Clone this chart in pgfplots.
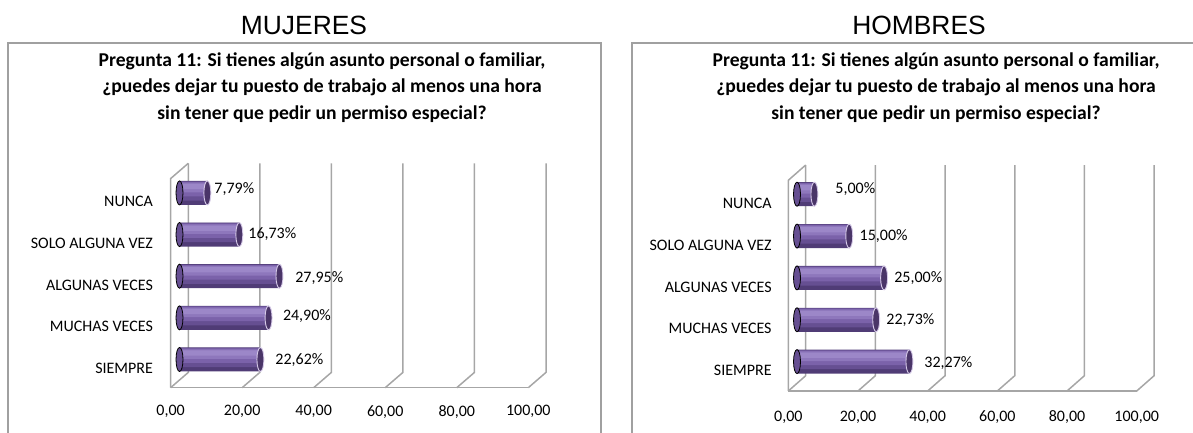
\documentclass[border=0pt]{standalone}
\usepackage{fontspec}
\setmainfont{Carlito}
\newfontfamily\arialfont{Liberation Sans}
\usepackage{pgfplots}
\pgfplotsset{compat=1.18}
\usepackage{pgfplotstable}

\definecolor{cA}{HTML}{503C76}
\definecolor{cB}{HTML}{664F92}
\definecolor{cC}{HTML}{7B62AA}
\definecolor{cD}{HTML}{8E77BC}
\definecolor{cE}{HTML}{9C87C8}
\definecolor{capfill}{HTML}{4A3568}
\definecolor{capline}{HTML}{D6CAE8}
\definecolor{gridc}{HTML}{A6A6A6}
\definecolor{framec}{HTML}{A0A0A0}

% y: category position, x: value, b: bar base, off/up: label offsets (pt)
\pgfplotstableread{
y x b off up
0 22.62 0 7.3 -0.5
1 24.90 0 7.0 1.0
2 27.95 0 7.7 -1.15
3 16.73 0 4.3 0.35
4 7.79 0 3.3 1.75
}\mujeres

\pgfplotstableread{
y x b off up
0 32.27 0 7.3 -0.5
1 22.73 0 4.9 0
2 25.00 0 4.9 0
3 15.00 0 5.0 0
4 5.00 0 10.3 2.5
}\hombres

\newcommand\decor[4]{% ymin ymax dx dy
  \pgfplotsinvokeforeach{0,20,40,60,80,100}{
    \draw[gridc,line width=0.75pt] (axis cs:##1,#1) -- ([xshift=#3,yshift=#4]axis cs:##1,#1) -- ([xshift=#3,yshift=#4]axis cs:##1,#2);
  }
  \draw[gridc,line width=0.75pt] (axis cs:0,#1) -- (axis cs:100,#1);
  \draw[gridc,line width=0.75pt] (axis cs:0,#1) -- (axis cs:0,#2) -- ([xshift=#3,yshift=#4]axis cs:0,#2);
}

\newcommand\bars[3]{% table, xshift, yshift
  \addplot[only marks, mark=*, mark size=6pt, draw=none, fill=cB, mark options={xscale=0.29, draw=none, fill=cB}, xshift=#2, yshift=#3] table[x=b,y=y]{#1};
  \addplot[xbar, bar width=12pt, bar shift=0pt, draw=none, fill=cA, xshift=#2, yshift=#3] table[x=x,y=y]{#1};
  \addplot[xbar, bar width=9.6pt, bar shift=1.0pt, draw=none, fill=cB, xshift=#2, yshift=#3] table[x=x,y=y]{#1};
  \addplot[xbar, bar width=7.2pt, bar shift=1.9pt, draw=none, fill=cC, xshift=#2, yshift=#3] table[x=x,y=y]{#1};
  \addplot[xbar, bar width=4.8pt, bar shift=2.7pt, draw=none, fill=cD, xshift=#2, yshift=#3] table[x=x,y=y]{#1};
  \addplot[xbar, bar width=2.6pt, bar shift=3.2pt, draw=none, fill=cE, xshift=#2, yshift=#3] table[x=x,y=y]{#1};
  \addplot[only marks, mark=*, mark size=6pt, mark options={xscale=0.29, fill=capfill, draw=capline, line width=0.45pt}, xshift=#2, yshift=#3,
    point meta=x,
    visualization depends on={\thisrow{off} \as \loff},
    visualization depends on={\thisrow{up} \as \lup},
    nodes near coords={\pgfmathprintnumber[fixed,fixed zerofill,precision=2,use comma]{\pgfplotspointmeta}\%},
    nodes near coords style={anchor=west, inner sep=0pt, xshift=\loff*1pt, yshift=\lup*1pt, font=\fontsize{8}{9}\selectfont, text=black}
  ] table[x=x,y=y]{#1};
}

\pgfplotsset{
  q11/.style={
    scale only axis, clip=false,
    xmin=0, xmax=100,
    axis x line*=bottom, axis y line*=left,
    axis line style={draw=none},
    major tick length=0pt,
    xtick={0,20,40,60,80,100},
    xticklabels={{0,00},{20,00},{40,00},{60,00},{80,00},{100,00}},
    ytick={0,1,2,3,4},
    yticklabels={SIEMPRE,MUCHAS VECES,ALGUNAS VECES,SOLO ALGUNA VEZ,NUNCA},
    tick label style={font=\fontsize{8}{9}\selectfont, text=black},
    /pgf/number format/assume math mode=true,
  }
}

\begin{document}
\begin{tikzpicture}
\path[use as bounding box] (0pt,0pt) rectangle (596.5pt,216.5pt);

% frames
\draw[framec, line width=1pt] (4.15pt,-1pt) -- (4.15pt,194.85pt) -- (300.5pt,194.85pt) -- (300.5pt,-1pt);
\draw[framec, line width=1pt] (316pt,-1pt) -- (316pt,194.85pt) -- (598pt,194.85pt);

% headers
\node[anchor=base, inner sep=0pt, font=\arialfont\fontsize{13.2}{15}\selectfont] at (152pt,199pt) {MUJERES};
\node[anchor=base, inner sep=0pt, font=\arialfont\fontsize{13.2}{15}\selectfont] at (459.5pt,199pt) {HOMBRES};

% chart titles
\foreach \cx in {161pt,468pt}{
  \node[anchor=base, inner sep=0pt, font=\fontsize{9.8}{12}\selectfont\bfseries] at (\cx,183.15pt) {Pregunta 11: Si tienes algún asunto personal o familiar,};
  \node[anchor=base, inner sep=0pt, font=\fontsize{9.8}{12}\selectfont\bfseries] at (\cx,170.05pt) {¿puedes dejar tu puesto de trabajo al menos una hora};
  \node[anchor=base, inner sep=0pt, font=\fontsize{9.8}{12}\selectfont\bfseries] at (\cx,156.95pt) {sin tener que pedir un permiso especial?};
}

% MUJERES
\begin{axis}[q11,
  at={(85.3pt,22.65pt)}, anchor=south west,
  width=178.85pt, height=104.55pt,
  ymin=-0.466, ymax=4.555,
  xticklabel style={anchor=center, inner sep=0pt, yshift=-12pt},
  yticklabel style={anchor=east, inner sep=0pt, xshift=-8.65pt},
]
\decor{-0.466}{4.555}{8.85pt}{7.65pt}
\bars{\mujeres}{4.45pt}{4.4pt}
\end{axis}

% HOMBRES
\begin{axis}[q11,
  at={(394.15pt,21pt)}, anchor=south west,
  width=174.2pt, height=105.35pt,
  ymin=-0.485, ymax=4.55,
  xticklabel style={anchor=center, inner sep=0pt, yshift=-13.15pt},
  yticklabel style={anchor=east, inner sep=0pt, xshift=-8.15pt},
]
\decor{-0.485}{4.55}{8.7pt}{7.65pt}
\bars{\hombres}{4.35pt}{4.55pt}
\end{axis}
\end{tikzpicture}
\end{document}
